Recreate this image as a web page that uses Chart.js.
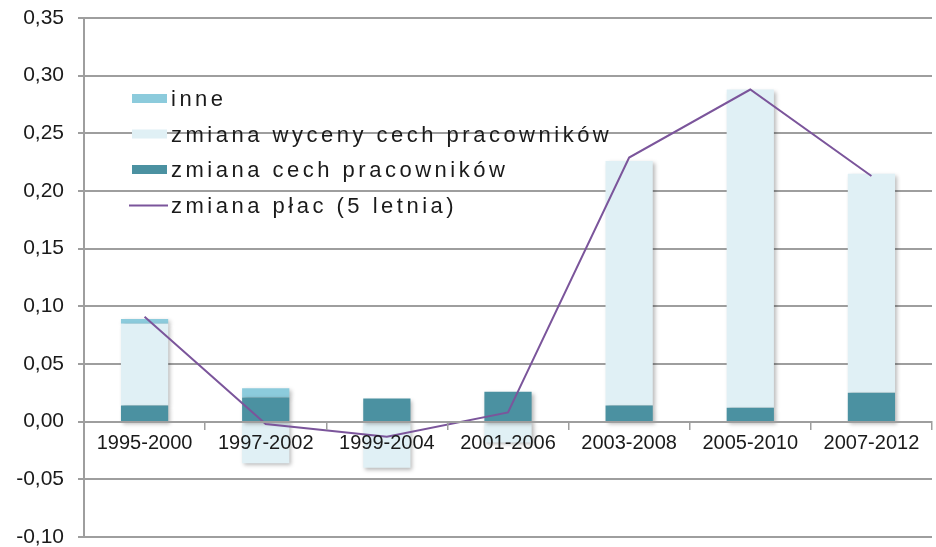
<!DOCTYPE html>
<html>
<head>
<meta charset="utf-8">
<script src="https://cdn.jsdelivr.net/npm/chart.js@4"></script>
<style>
  body { margin: 0; background: #fff; }
  #wrap { width: 936px; height: 547px; }
</style>
</head>
<body>
<div id="wrap"><canvas id="wykres"></canvas></div>
<script>
// okresy 5-letnie
const okresy = ['1995-2000', '1997-2002', '1999-2004', '2001-2006', '2003-2008', '2005-2010', '2007-2012'];

// wartosci
const zmianaCech = [0.014, 0.021, 0.020, 0.026, 0.014, 0.012, 0.025];
const zmianaWyceny = [0.071, -0.036, -0.040, -0.018, 0.212, 0.276, 0.190];
const inne = [0.004, 0.008, 0, 0, 0, 0, 0];
const zmianaPlac = [0.091, -0.002, -0.013, 0.008, 0.229, 0.288, 0.213];

const osY = { min: -0.10, max: 0.35, krok: 0.05 };

const kolory = {
  inne: '#8ccbdc',
  wycena: '#e0f0f5',
  cech: '#4b91a1',
  place: '#7b559b',
  siatka: '#9e9e9e',
  tekst: '#1a1a1a'
};

const czcionka = 'Liberation Sans, Arial, sans-serif';

// cien pod slupkami
const cienSlupkow = {
  id: 'cienSlupkow',
  beforeDatasetDraw(chart, args) {
    if (args.meta.type !== 'bar') return;
    const ctx = chart.ctx;
    ctx.save();
    ctx.shadowColor = 'rgba(0,0,0,0.28)';
    ctx.shadowBlur = 4;
    ctx.shadowOffsetX = 2;
    ctx.shadowOffsetY = 2;
  },
  afterDatasetDraw(chart, args) {
    if (args.meta.type !== 'bar') return;
    chart.ctx.restore();
  }
};

// legenda wewnatrz obszaru wykresu (lewy gorny rog)
const legendaWewnatrz = {
  id: 'legendaWewnatrz',
  beforeDatasetsDraw(chart) {
    const ctx = chart.ctx;
    const area = chart.chartArea;
    const kolejnosc = [2, 1, 0, 3];
    ctx.save();
    ctx.font = '22px ' + czcionka;
    ctx.letterSpacing = '3.5px';
    ctx.textBaseline = 'middle';
    kolejnosc.forEach((idx, i) => {
      const ds = chart.data.datasets[idx];
      const x = area.left + 48;
      const y = area.top + 81 + i * 35.5;
      if (ds.type === 'line') {
        ctx.strokeStyle = ds.borderColor;
        ctx.lineWidth = 2;
        ctx.beginPath();
        ctx.moveTo(x - 3, y);
        ctx.lineTo(x + 36, y);
        ctx.stroke();
      } else {
        ctx.fillStyle = ds.backgroundColor;
        ctx.fillRect(x, y - 5, 35, 9);
      }
      ctx.fillStyle = kolory.tekst;
      ctx.fillText(ds.label, x + 39, y + 1);
    });
    ctx.restore();
  }
};

new Chart(document.getElementById('wykres'), {
  type: 'bar',
  data: {
    labels: okresy,
    datasets: [
      { label: 'zmiana cech pracowników', data: zmianaCech, backgroundColor: kolory.cech, order: 1 },
      { label: 'zmiana wyceny cech pracowników', data: zmianaWyceny, backgroundColor: kolory.wycena, order: 1 },
      { label: 'inne', data: inne, backgroundColor: kolory.inne, order: 1 },
      {
        type: 'line', label: 'zmiana płac (5 letnia)', data: zmianaPlac,
        borderColor: kolory.place, borderWidth: 2, pointRadius: 0, tension: 0,
        stack: 'place', order: 0
      }
    ]
  },
  options: {
    responsive: true,
    maintainAspectRatio: false,
    animation: false,
    layout: { padding: { top: 0, right: 4, bottom: 0, left: 0 } },
    datasets: {
      bar: { categoryPercentage: 0.39, barPercentage: 1 }
    },
    plugins: {
      legend: { display: false },
      tooltip: { enabled: false }
    },
    scales: {
      x: {
        stacked: true,
        position: { y: 0 },
        grid: {
          drawOnChartArea: false,
          offset: true,
          tickLength: 7,
          color: kolory.siatka,
          lineWidth: 1.5,
          z: 1
        },
        border: { display: true, color: kolory.siatka, width: 2, z: 1 },
        ticks: {
          z: 1,
          padding: 3,
          color: kolory.tekst,
          font: { family: czcionka, size: 20 },
          maxRotation: 0
        }
      },
      y: {
        stacked: true,
        min: osY.min,
        max: osY.max,
        afterFit(scale) {
          scale.width = 84;
          scale.paddingTop = 18;
          scale.paddingBottom = 10;
        },
        grid: {
          color: kolory.siatka,
          lineWidth: 2,
          tickLength: 6
        },
        border: { display: true, color: kolory.siatka, width: 2 },
        ticks: {
          stepSize: osY.krok,
          padding: 14,
          color: kolory.tekst,
          font: { family: czcionka, size: 21 },
          callback(v) {
            const w = Math.abs(v) < 1e-9 ? 0 : v;
            return w.toFixed(2).replace('.', ',');
          }
        }
      }
    }
  },
  plugins: [cienSlupkow, legendaWewnatrz]
});
</script>
</body>
</html>
